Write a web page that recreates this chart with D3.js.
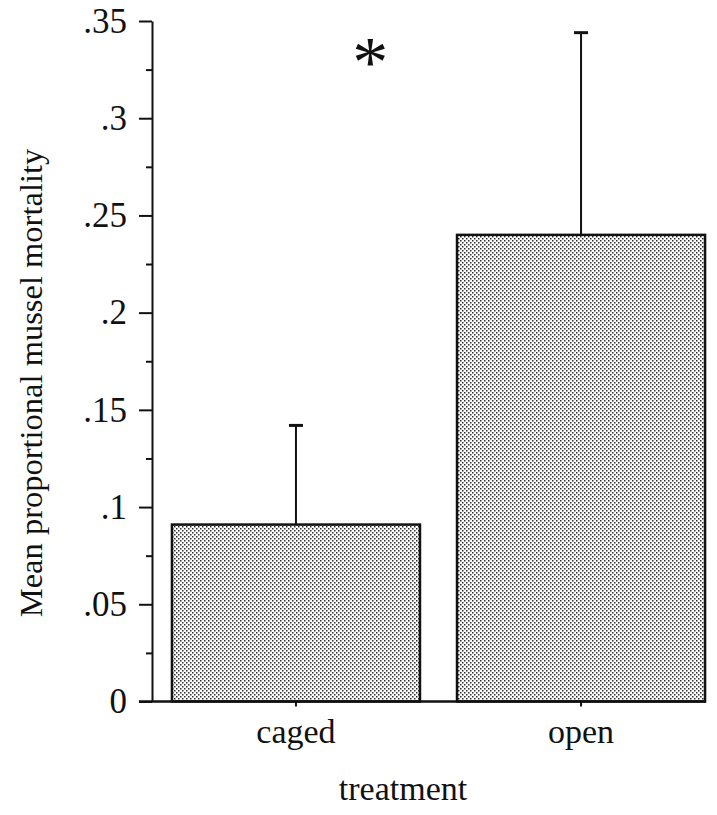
<!DOCTYPE html>
<meta charset="utf-8">
<style>
body { margin: 0; background: #fff; }
svg { font-family: "Liberation Serif", "Times New Roman", serif; }
</style>
<svg width="717" height="815"></svg>
<script src="https://d3js.org/d3.v7.min.js"></script>
<script>

// values
var treatments = ["caged", "open"];
var means = [0.091, 0.240];
var errTops = [0.142, 0.344];
var yTicks = [0, 0.05, 0.1, 0.15, 0.2, 0.25, 0.3, 0.35];
var yTickLabels = ["0", ".05", ".1", ".15", ".2", ".25", ".3", ".35"];
var minorTicks = [0.025, 0.075, 0.125, 0.175, 0.225, 0.275, 0.325];
var star = { label: "*", value: 0.333 };

var svg = d3.select("svg");

var x = d3.scaleBand()
    .domain(treatments)
    .range([152, 725])
    .paddingInner(0.13)
    .paddingOuter(0.07);

var y = d3.scaleLinear()
    .domain([0, 0.35])
    .range([701.5, 21]);

// stipple fill
var pat = svg.append("defs").append("pattern")
    .attr("id", "dots")
    .attr("width", 4)
    .attr("height", 4)
    .attr("patternUnits", "userSpaceOnUse");
pat.append("rect").attr("width", 4).attr("height", 4).attr("fill", "#fff");
pat.append("rect").attr("x", 0).attr("y", 0).attr("width", 1.5).attr("height", 1.5).attr("fill", "#2a2a2a");
pat.append("rect").attr("x", 2).attr("y", 2).attr("width", 1.5).attr("height", 1.5).attr("fill", "#2a2a2a");

// bars
svg.selectAll(".bar")
    .data(treatments)
  .enter().append("rect")
    .attr("class", "bar")
    .attr("x", function(d) { return x(d); })
    .attr("y", function(d, i) { return y(means[i]); })
    .attr("width", x.bandwidth())
    .attr("height", function(d, i) { return y(0) - y(means[i]); })
    .attr("fill", "url(#dots)")
    .attr("stroke", "#111")
    .attr("stroke-width", 2.5);

// error bars (upper only)
var eb = svg.selectAll(".err")
    .data(treatments)
  .enter().append("g")
    .attr("class", "err")
    .attr("transform", function(d) { return "translate(" + (x(d) + x.bandwidth() / 2) + ",0)"; });

eb.append("line")
    .attr("y1", function(d, i) { return y(means[i]); })
    .attr("y2", function(d, i) { return y(errTops[i]); })
    .attr("stroke", "#111")
    .attr("stroke-width", 2);

eb.append("line")
    .attr("x1", -7).attr("x2", 7)
    .attr("y1", function(d, i) { return y(errTops[i]); })
    .attr("y2", function(d, i) { return y(errTops[i]); })
    .attr("stroke", "#111")
    .attr("stroke-width", 3);

// y axis
var yAxis = d3.axisLeft(y)
    .tickValues(yTicks)
    .tickFormat(function(d, i) { return yTickLabels[i]; })
    .tickSize(13)
    .tickPadding(12)
    .tickSizeOuter(0);

var ya = svg.append("g")
    .attr("transform", "translate(152,0)")
    .call(yAxis);
ya.select(".domain").attr("stroke", "#111").attr("stroke-width", 2);
ya.selectAll(".tick line").attr("stroke", "#111").attr("stroke-width", 2);
ya.selectAll(".tick text")
    .attr("fill", "#111")
    .style("font-size", "35px")
    .style("font-family", "'Liberation Serif', serif");

var minor = d3.axisLeft(y)
    .tickValues(minorTicks)
    .tickSize(6)
    .tickFormat("")
    .tickSizeOuter(0);

var ym = svg.append("g")
    .attr("transform", "translate(152,0)")
    .call(minor);
ym.select(".domain").remove();
ym.selectAll(".tick line").attr("stroke", "#111").attr("stroke-width", 2);

// x axis
var xAxis = d3.axisBottom(x)
    .tickSize(5)
    .tickPadding(12)
    .tickSizeOuter(0);

var xa = svg.append("g")
    .attr("transform", "translate(0," + y(0) + ")")
    .call(xAxis);
xa.select(".domain").attr("d", "M139,0H706").attr("stroke", "#111").attr("stroke-width", 2.5);
xa.selectAll(".tick line").attr("stroke", "#111").attr("stroke-width", 2);
xa.selectAll(".tick text")
    .attr("fill", "#111")
    .style("font-size", "34px")
    .style("font-family", "'Liberation Serif', serif");

// axis titles
svg.append("text")
    .attr("transform", "translate(42," + 383 + ") rotate(-90)")
    .attr("text-anchor", "middle")
    .attr("fill", "#111")
    .style("font-size", "32.5px")
    .text("Mean proportional mussel mortality");

svg.append("text")
    .attr("x", 403)
    .attr("y", 800)
    .attr("text-anchor", "middle")
    .attr("fill", "#111")
    .style("font-size", "34px")
    .text("treatment");

// significance marker
svg.append("text")
    .attr("x", x("caged") + x.bandwidth() * 0.8)
    .attr("y", y(star.value))
    .attr("dy", "0.45em")
    .attr("text-anchor", "middle")
    .attr("fill", "#111")
    .style("font-size", "72px")
    .text(star.label);

</script>
